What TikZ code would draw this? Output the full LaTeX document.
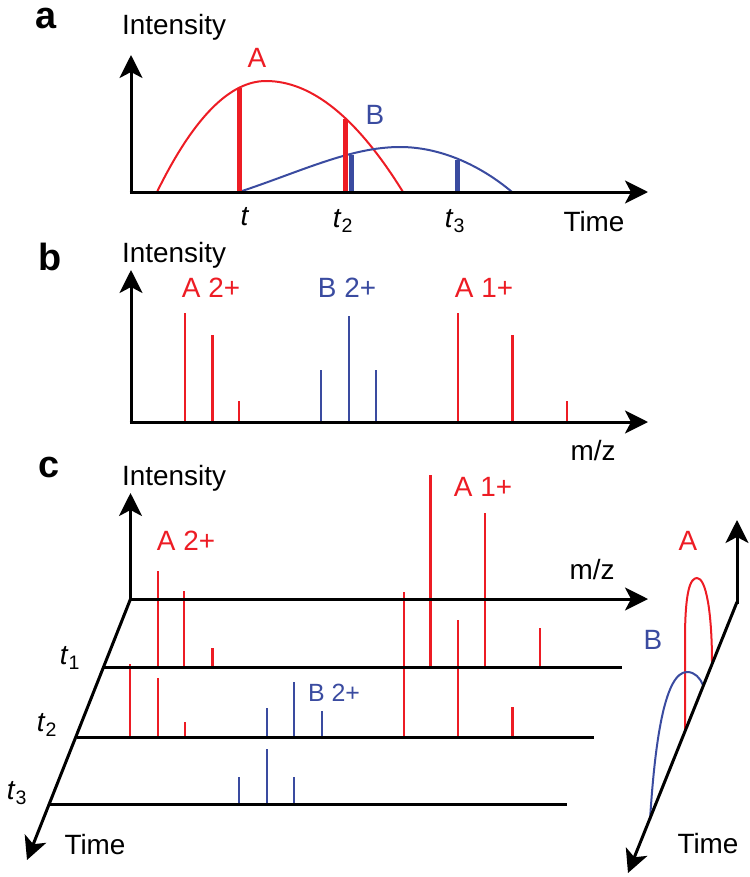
\documentclass[tikz,border=0pt]{standalone}
\usepackage{fontspec}
\setmainfont{Liberation Sans}
\usetikzlibrary{arrows.meta}
\definecolor{cred}{HTML}{ED1C24}
\definecolor{cblue}{HTML}{3A4BA0}
\tikzset{
  axis/.style={line width=3bp, -{Stealth[length=23bp,width=23bp,inset=6bp]}},
  plain/.style={line width=3bp},
  pkred/.style={cred, line width=2.7bp},
  pkblue/.style={cblue, line width=2.7bp},
  barred/.style={cred, line width=5bp},
  barblue/.style={cblue, line width=5bp},
  curvered/.style={cred, line width=2bp},
  curveblue/.style={cblue, line width=2bp},
  lbl/.style={font=\fontsize{28}{30}\selectfont, inner sep=0pt},
  slbl/.style={font=\fontsize{25}{27}\selectfont, inner sep=0pt},
  panel/.style={font=\fontsize{38}{40}\selectfont\bfseries, inner sep=0pt},
}
\begin{document}
\begin{tikzpicture}[x=1bp,y=-1bp]
\useasboundingbox (0,0) rectangle (750,877);
% ---------- panel a ----------
\draw[curvered] (157,192) .. controls (193.3,118) and (229.7,81) .. (266,81) .. controls (311.7,81) and (357.3,118) .. (403,192);
\draw[curveblue] (239,192) .. controls (300,172) and (350,147) .. (400,147) .. controls (440,147) and (480,165) .. (512,192);
\draw[barred] (239,192) -- (239,88);
\draw[barred] (345,192) -- (345,119);
\draw[barblue] (351,192) -- (351,155);
\draw[barblue] (457,192) -- (457,160);
\draw[axis] (131,193.5) -- (131,55);
\draw[axis] (129.5,192) -- (648,192);
\node[panel, anchor=base] (pa) at (46,28) {a};
\node[lbl, anchor=base west] (ia) at (122,34) {Intensity};
\node[lbl, text=cred] (aA) at (257,58) {A};
\node[lbl, text=cblue] (aB) at (375,115) {B};
\node[lbl] (at1) at (245,217) {\textit{t}};
\node[lbl] (at2) at (343,221) {\textit{t}\textsubscript{2}};
\node[lbl] (at3) at (455,221) {\textit{t}\textsubscript{3}};
\node[lbl] (atime) at (594,222) {Time};
% ---------- panel b ----------
\draw[pkred] (185,422) -- (185,313);
\draw[pkred] (212.5,422) -- (212.5,335);
\draw[pkred] (239,422) -- (239,401);
\draw[pkblue] (321,422) -- (321,370);
\draw[pkblue] (349,422) -- (349,316);
\draw[pkblue] (376,422) -- (376,370);
\draw[pkred] (458,422) -- (458,313);
\draw[pkred] (512.5,422) -- (512.5,335);
\draw[pkred] (567,422) -- (567,401);
\draw[axis] (131,423.5) -- (131,270);
\draw[axis] (129.5,422) -- (648,422);
\node[panel, anchor=base] (pb) at (50,270) {b};
\node[lbl, anchor=base west] (ib) at (122,262) {Intensity};
\node[lbl, text=cred] (bA2) at (211,288) {A 2+};
\node[lbl, text=cblue] (bB2) at (347,288) {B 2+};
\node[lbl, text=cred] (bA1) at (484,288) {A 1+};
\node[lbl] (bmz) at (593,451) {m/z};
% ---------- panel c ----------
% t1 row (base 667)
\draw[pkred] (158,667) -- (158,571);
\draw[pkred] (184,667) -- (184,591);
\draw[pkred] (212.5,667) -- (212.5,648);
\draw[pkred] (430.5,667) -- (430.5,475);
\draw[pkred] (485,667) -- (485,513);
\draw[pkred] (540,667) -- (540,628);
% t2 row (base 737)
\draw[pkred] (130,737) -- (130,664);
\draw[pkred] (158,737) -- (158,678);
\draw[pkred] (185,737) -- (185,722);
\draw[pkred] (404,737) -- (404,592);
\draw[pkred] (458,737) -- (458,620);
\draw[pkred] (512.5,737) -- (512.5,707);
\draw[pkblue] (267,737) -- (267,708);
\draw[pkblue] (294,737) -- (294,682);
\draw[pkblue] (322,739) -- (322,711);
% t3 row (base 804)
\draw[pkblue] (239,804) -- (239,777);
\draw[pkblue] (267,804) -- (267,749);
\draw[pkblue] (294,804) -- (294,777);
% rows
\draw[plain] (104,667) -- (622,667);
\draw[plain] (77,737) -- (594,737);
\draw[plain] (50,804) -- (567,804);
% axes
\draw[axis] (130.5,600.5) -- (130.5,493);
\draw[axis] (129,599) -- (648,599);
\draw[axis] (130.5,599) -- (27,860);
\node[panel, anchor=base] (pc) at (49,477) {c};
\node[lbl, anchor=base west] (ic) at (122,485) {Intensity};
\node[lbl, text=cred] (cA2) at (186,541) {A 2+};
\node[lbl, text=cred] (cA1) at (483,487) {A 1+};
\node[lbl] (cmz) at (592,570) {m/z};
\node[slbl, text=cblue] (cB2) at (334,693) {B 2+};
\node[lbl] (ct1) at (70,658) {\textit{t}\textsubscript{1}};
\node[lbl] (ct2) at (47,725) {\textit{t}\textsubscript{2}};
\node[lbl] (ct3) at (17,793) {\textit{t}\textsubscript{3}};
\node[lbl] (ctime) at (95,845) {Time};
% ---------- right inset ----------
\draw[curvered] (685,730) -- (685,640) .. controls (685,592) and (690,578) .. (697,578) .. controls (706,578) and (712,612) .. (712,663);
\draw[curveblue] (650,820) .. controls (655,740) and (665,672) .. (687,672) .. controls (695,672) and (700,678) .. (703,685);
\draw[axis] (737,603.5) -- (737,520);
\draw[axis] (737,602) -- (628,873);
\node[lbl, text=cred] (rA) at (688,541) {A};
\node[lbl, text=cblue] (rB) at (653,640) {B};
\node[lbl] (rtime) at (708,844) {Time};
\end{tikzpicture}
\end{document}
